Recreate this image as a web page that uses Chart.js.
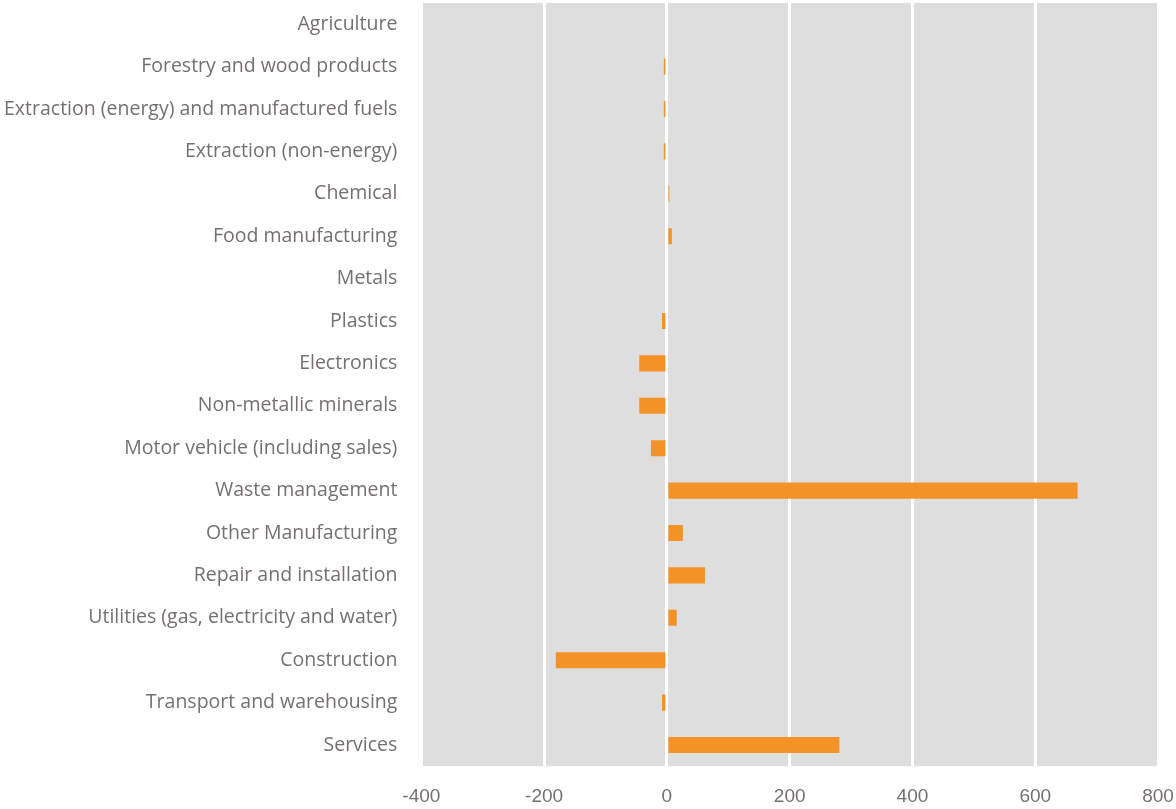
<!DOCTYPE html>
<html lang="en">
<head>
    <meta charset="UTF-8">
    <title>Change by sector</title>
    <script src="https://cdn.jsdelivr.net/npm/chart.js"></script>
    <style>
        body { margin: 0; background: #fff; }
        #wrap { width: 1176px; height: 809px; position: relative; }
    </style>
</head>
<body>
    <div id="wrap"><canvas id="chart"></canvas></div>

    <script>
        const sectors = [
            'Agriculture',
            'Forestry and wood products',
            'Extraction (energy) and manufactured fuels',
            'Extraction (non-energy)',
            'Chemical',
            'Food manufacturing',
            'Metals',
            'Plastics',
            'Electronics',
            'Non-metallic minerals',
            'Motor vehicle (including sales)',
            'Waste management',
            'Other Manufacturing',
            'Repair and installation',
            'Utilities (gas, electricity and water)',
            'Construction',
            'Transport and warehousing',
            'Services'
        ];
        const changes = [0, -5, -5, -5, 4, 8, 0, -8, -45, -45, -26, 669, 26, 62, 16, -181, -8, 281];
        const xMin = -400, xMax = 800, xStep = 200;

        // grey plot background
        const plotBg = {
            id: 'plotBg',
            beforeDraw(chart) {
                const a = chart.chartArea, c = chart.ctx;
                c.save();
                c.fillStyle = '#dedede';
                c.fillRect(a.left, a.top, a.right - a.left, a.bottom - a.top);
                c.restore();
            }
        };

        const ctx = document.getElementById('chart').getContext('2d');
        const chart = new Chart(ctx, {
            type: 'bar',
            data: {
                labels: sectors,
                datasets: [{
                    data: changes,
                    backgroundColor: '#f39227',
                    barPercentage: 0.38,
                    categoryPercentage: 1
                }]
            },
            plugins: [plotBg],
            options: {
                indexAxis: 'y',
                responsive: true,
                maintainAspectRatio: false,
                animation: false,
                layout: { padding: { left: 4, top: 3, right: 0, bottom: 1 } },
                plugins: {
                    legend: { display: false },
                    tooltip: { enabled: false }
                },
                scales: {
                    x: {
                        min: xMin,
                        max: xMax,
                        ticks: {
                            stepSize: xStep,
                            padding: 0,
                            color: '#757070',
                            font: { family: 'Liberation Sans Narrow, Liberation Sans', size: 19 }
                        },
                        // invisible tick marks give the gap under the plot
                        grid: { color: '#ffffff', lineWidth: 3, drawTicks: true, tickLength: 19, tickColor: 'rgba(0,0,0,0)' },
                        border: { display: false },
                        afterFit(s) { s.paddingLeft = 0; s.paddingRight = 18; }
                    },
                    y: {
                        ticks: {
                            padding: 0,
                            color: '#757070',
                            font: { family: 'Open Sans', size: 19.5 }
                        },
                        grid: { display: true, drawOnChartArea: false, drawTicks: true, tickLength: 24, tickColor: 'rgba(0,0,0,0)' },
                        border: { display: false },
                        afterFit(s) { s.paddingTop = 0; s.paddingBottom = 0; }
                    }
                }
            }
        });
    </script>
</body>
</html>
